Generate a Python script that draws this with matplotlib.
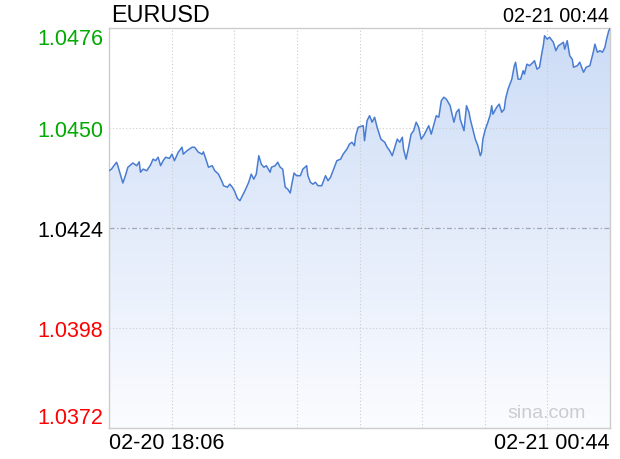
import numpy as np
import matplotlib
matplotlib.use("Agg")
import matplotlib.pyplot as plt
from matplotlib.colors import LinearSegmentedColormap

plt.rcParams['font.family'] = ['Liberation Sans', 'DejaVu Sans']

# minutes after 02-20 18:06
minutes = [0, 2, 3, 6, 7, 9, 11, 13, 15, 19, 22, 24, 25, 27, 30, 33, 35, 37, 39, 41,
           43, 45, 48, 50, 52, 55, 58, 59, 62, 66, 68, 71, 74, 75, 77, 79, 82, 84, 87, 90,
           91, 94, 96, 98, 100, 102, 104, 106, 108, 111, 113, 115, 117, 119, 121, 123, 125, 128, 129, 132,
           134, 136, 138, 140, 142, 144, 145, 147, 149, 152, 154, 157, 158, 160, 162, 164, 166, 169, 172, 174,
           176, 178, 181, 184, 186, 189, 191, 193, 195, 196, 198, 202, 203, 205, 207, 209, 211, 213, 216, 219,
           221, 223, 225, 229, 231, 233, 234, 236, 238, 240, 242, 244, 246, 248, 250, 252, 254, 256, 260, 262,
           264, 266, 268, 271, 274, 276, 278, 279, 282, 284, 286, 287, 289, 291, 293, 295, 296, 297, 299, 301,
           303, 304, 305, 308, 310, 312, 314, 315, 317, 320, 322, 323, 325, 327, 329, 330, 332, 334, 337, 338,
           340, 342, 344, 345, 346, 348, 350, 353, 355, 357, 359, 361, 362, 364, 366, 368, 369, 372, 374, 376,
           377, 379, 382, 384, 385, 386, 388, 390, 392, 394, 395, 397, 398]
price = [1.04389, 1.04393, 1.04398, 1.04411, 1.04402, 1.04380, 1.04357, 1.04376, 1.04398, 1.04409,
         1.04402, 1.04412, 1.04385, 1.04393, 1.04389, 1.04404, 1.04419, 1.04415, 1.04424, 1.04402,
         1.04415, 1.04424, 1.04421, 1.04432, 1.04415, 1.04437, 1.04450, 1.04432, 1.04441, 1.04450,
         1.04450, 1.04437, 1.04432, 1.04438, 1.04419, 1.04398, 1.04402, 1.04389, 1.04380, 1.04359,
         1.04350, 1.04346, 1.04354, 1.04346, 1.04334, 1.04317, 1.04311, 1.04324, 1.04337, 1.04359,
         1.04380, 1.04367, 1.04380, 1.04428, 1.04406, 1.04398, 1.04402, 1.04385, 1.04398, 1.04402,
         1.04411, 1.04398, 1.04393, 1.04346, 1.04341, 1.04331, 1.04350, 1.04383, 1.04376, 1.04376,
         1.04393, 1.04402, 1.04376, 1.04359, 1.04354, 1.04359, 1.04350, 1.04350, 1.04376, 1.04363,
         1.04372, 1.04389, 1.04415, 1.04419, 1.04432, 1.04445, 1.04458, 1.04463, 1.04454, 1.04480,
         1.04502, 1.04506, 1.04467, 1.04519, 1.04532, 1.04515, 1.04528, 1.04502, 1.04471, 1.04463,
         1.04450, 1.04441, 1.04428, 1.04471, 1.04463, 1.04476, 1.04445, 1.04419, 1.04450, 1.04484,
         1.04493, 1.04515, 1.04502, 1.04471, 1.04480, 1.04493, 1.04506, 1.04484, 1.04532, 1.04528,
         1.04571, 1.04580, 1.04575, 1.04558, 1.04515, 1.04541, 1.04549, 1.04523, 1.04493, 1.04558,
         1.04541, 1.04523, 1.04497, 1.04471, 1.04454, 1.04428, 1.04437, 1.04471, 1.04497, 1.04515,
         1.04536, 1.04558, 1.04536, 1.04554, 1.04562, 1.04541, 1.04549, 1.04575, 1.04601, 1.04627,
         1.04662, 1.04671, 1.04627, 1.04627, 1.04649, 1.04640, 1.04666, 1.04662, 1.04671, 1.04675,
         1.04653, 1.04658, 1.04697, 1.04714, 1.04740, 1.04731, 1.04736, 1.04723, 1.04701, 1.04714,
         1.04718, 1.04723, 1.04705, 1.04727, 1.04688, 1.04679, 1.04658, 1.04662, 1.04671, 1.04653,
         1.04645, 1.04658, 1.04662, 1.04688, 1.04701, 1.04718, 1.04697, 1.04701, 1.04697, 1.04710,
         1.04727, 1.04753, 1.04758]

y_ticks = [1.0372, 1.0398, 1.0424, 1.0450, 1.0476]
y_tick_colors = ['#f00', '#f00', '#000', '#0a0', '#0a0']
prev_close = 1.0424
t_start, t_end = 0, 398
start_label = '02-20 18:06'
end_label = '02-21 00:44'

fig = plt.figure(figsize=(6.2, 4.6), dpi=100)
ax = fig.add_axes([109 / 620, 31 / 460, 501 / 620, 400 / 460])
ax.set_xlim(t_start, t_end)
ax.set_ylim(y_ticks[0], y_ticks[-1])

# gradient fill under the line
cmap = LinearSegmentedColormap.from_list('fill', ['#fbfcff', '#ccdcf6'])
grad = np.linspace(0, 1, 256).reshape(-1, 1)
img = ax.imshow(grad, cmap=cmap, aspect='auto', origin='lower',
                extent=[t_start, t_end, y_ticks[0], y_ticks[-1]], zorder=1)
poly = ax.fill_between(minutes, price, y_ticks[0], color='none', lw=0)
img.set_clip_path(poly.get_paths()[0], transform=ax.transData)

ax.plot(minutes, price, color='#4a7dd2', lw=1.1, zorder=3)

# grid
for k in range(1, 8):
    ax.axvline(t_end * k / 8, color='#cccccc', lw=0.8, ls=(0, (1, 2)), zorder=2)
for v in y_ticks[1:-1]:
    if v == prev_close:
        ax.axhline(v, color='#a0a8b8', lw=0.9, ls=(0, (4, 2, 1, 2)), zorder=2)
    else:
        ax.axhline(v, color='#cccccc', lw=0.8, ls=(0, (1, 2)), zorder=2)

for s in ax.spines.values():
    s.set_color('#cccccc')
    s.set_linewidth(1)

ax.set_xticks([])
ax.set_yticks(y_ticks)
ax.set_yticklabels([f'{v:.4f}' for v in y_ticks], fontsize=15.5)
labels = ax.get_yticklabels()
for lab, c in zip(labels, y_tick_colors):
    lab.set_color(c)
labels[0].set_va('bottom')
labels[-1].set_va('top')
ax.tick_params(axis='y', length=0, pad=4)

fig.text(111 / 620, 1 - 16 / 460, 'EURUSD', fontsize=16.8, va='center', ha='left')
fig.text(609 / 620, 1 - 17 / 460, end_label, fontsize=14.3, va='center', ha='right')
fig.text(109 / 620, 1 - 444 / 460, start_label, fontsize=15.5, va='center', ha='left')
fig.text(609 / 620, 1 - 444 / 460, end_label, fontsize=15.5, va='center', ha='right')
ax.text(0.952, 0.018, 'sina.com', transform=ax.transAxes, fontsize=14,
        color='#cccccc', ha='right', va='bottom', zorder=4)

fig.savefig('out.png', dpi=100)
